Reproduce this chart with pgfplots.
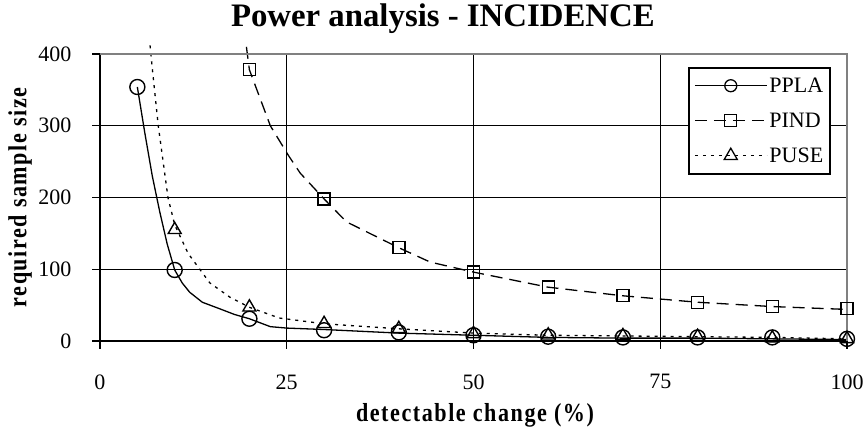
\documentclass[border=0pt]{standalone}
\usepackage{pgfplots}
\pgfplotsset{compat=1.18}
\usepackage{fontspec}
\setmainfont{Liberation Serif}
\newfontfamily\lblfont[FakeStretch=0.85, LetterSpace=6]{Liberation Serif}
\begin{document}
\begin{tikzpicture}
\useasboundingbox (-100pt,-100pt) rectangle (768pt,341pt);
\begin{axis}[
  at={(0,0)}, anchor=south west,
  scale only axis, width=747pt, height=287pt,
  xmin=0, xmax=100, ymin=0, ymax=400,
  xtick={0,25,50,75,100}, ytick={0,100,200,300,400},
  separate axis lines,
  axis x line*=bottom, axis y line*=left,
  axis line style={black, line width=1.6pt, -},
  tick style={black, line width=1.4pt},
  tick align=outside, major tick length=8pt,
  xmajorgrids, ymajorgrids,
  grid style={black, line width=0.9pt},
  /pgf/number format/assume math mode=true,
  ticklabel style={font=\fontsize{22}{26}\selectfont},
  xticklabel style={yshift=-22pt},
  yticklabel style={xshift=-17pt},
  xlabel={detectable change (\%)},
  ylabel={required sample size},
  xlabel style={font=\fontsize{26}{30}\lblfont\bfseries, at={(rel axis cs:0.502,-0.258)}, anchor=center},
  ylabel style={font=\fontsize{26}{30}\lblfont\bfseries, at={(rel axis cs:-0.107,0.5)}, anchor=center},
  title={Power analysis - INCIDENCE},
  title style={font=\fontsize{32.8}{38}\selectfont\bfseries, at={(rel axis cs:0.459,1)}, anchor=base, yshift=21pt},
  clip=false,
  legend style={at={(rel axis cs:0.9786,0.955)}, anchor=north east, draw=black, line width=1.6pt,
    font=\fontsize{22}{26}\selectfont, row sep=15pt, inner xsep=5pt, inner ysep=8pt},
  legend cell align=left,
  legend image code/.code={\draw[mark repeat=2,mark phase=2,#1] plot coordinates {(0pt,0pt) (36pt,0pt) (72pt,0pt)};},
]
% legend entries
\addlegendimage{black, line width=1.3pt, solid, mark=o, mark size=6pt, mark options={solid, line width=1.3pt}}
\addlegendentry{PPLA}
\addlegendimage{black, line width=1.3pt, dash pattern=on 12pt off 7pt, mark=square, mark size=6pt, mark options={solid, line width=1.3pt}}
\addlegendentry{PIND}
\addlegendimage{black, line width=1.3pt, dash pattern=on 3pt off 5pt, mark=triangle, mark size=7.5pt, mark options={solid, line width=1.3pt}}
\addlegendentry{PUSE}

% PPLA curve
\addplot[forget plot, black, line width=1.3pt, solid] coordinates {
(5,354)(6,290)(7,230)(8,180)(9,135)(10,99)(11,81)(12,68)(13.7,54)(16,45)(18,37)(20,31)(22.8,20)(25,18)(30,16)(40,11)(50,8)(60,5)(70,4)(80,4)(90,3)(100,2)};
% PIND curve
\addplot[forget plot, black, line width=1.3pt, dash pattern=on 12pt off 7pt] coordinates {
(19.6,410)(20,378)(22.8,300)(25.2,259)(26.8,234)(30,198)(33,166)(40,130)(44.2,110)(50,96)(60,75)(70,63)(80,54)(90,48)(100,44)};
% PUSE curve
\addplot[forget plot, black, line width=1.3pt, dash pattern=on 3pt off 5pt] coordinates {
(6.7,412)(7,380)(7.8,300)(9.1,200)(10,162)(11.8,122)(14.7,81)(17.4,61)(20,47)(24,32)(30,24)(40,17)(50,11)(60,8)(70,7)(80,6)(90,5)(100,3)};

% markers
\addplot[forget plot, only marks, black, mark=o, mark size=7.5pt, mark options={line width=1.4pt}] coordinates {
(5,354)(10,99)(20,31)(30,15)(40,12)(50,8)(60,6)(70,5)(80,5)(90,5)(100,3)};
\addplot[forget plot, only marks, black, mark=square, mark size=6pt, mark options={line width=1.4pt}] coordinates {
(20,378)(30,198)(40,130)(50,96)(60,75)(70,63)(80,54)(90,48)(100,45)};
\addplot[forget plot, only marks, black, mark=triangle, mark size=7.5pt, mark options={line width=1.4pt}] coordinates {
(10,155)(20,47)(30,24)(40,17)(50,10)(60,8)(70,7)(80,6)(90,4)(100,3)};

\draw[gray, line width=1.6pt] (rel axis cs:0,1) -- (rel axis cs:1,1) -- (rel axis cs:1,0);
\end{axis}
\end{tikzpicture}
\end{document}
